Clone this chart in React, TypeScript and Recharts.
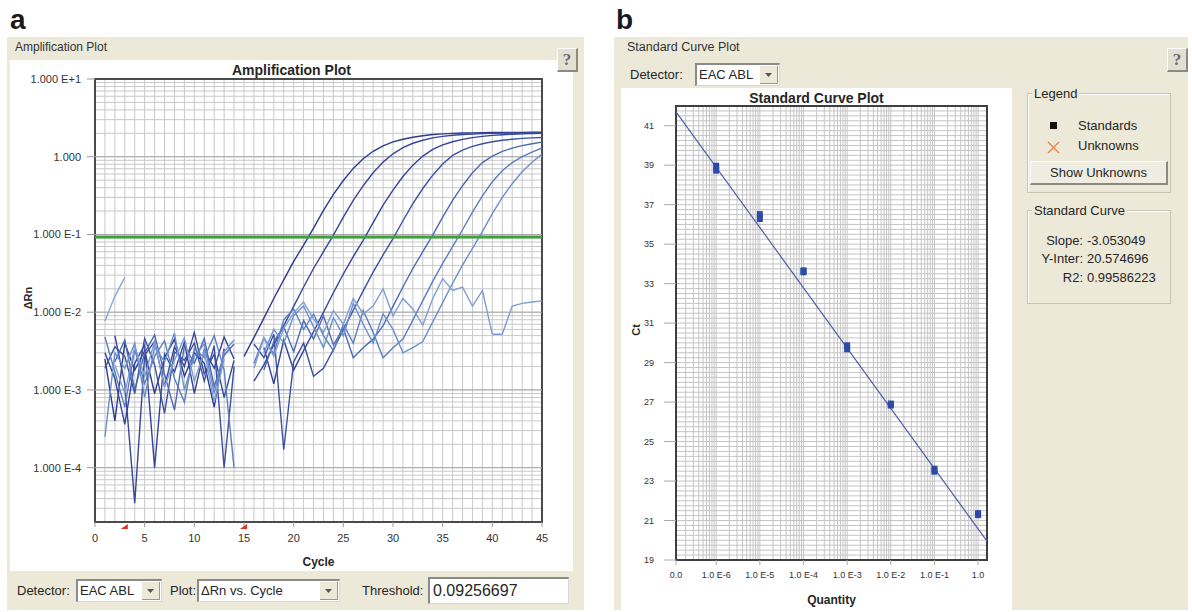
import React from "react";
import {
  LineChart,
  Line,
  ScatterChart,
  Scatter,
  XAxis,
  YAxis,
  CartesianGrid,
  ReferenceLine,
  ReferenceArea,
  ReferenceDot,
} from "recharts";

// ---------- (a) amplification plot ----------
const cycles = Array.from({ length: 45 }, (_, i) => i + 1);
const cycleTicks = [0, 5, 10, 15, 20, 25, 30, 35, 40, 45];
const drnTicks = [1e-4, 1e-3, 1e-2, 1e-1, 1, 10];
const drnMin = 2e-5;
const drnMax = 10;
const threshold = 0.09256697;
const baselineStart = 3;
const baselineEnd = 15;

// delta Rn per cycle, one array per well (null = not plotted on the log axis)
const wellA = [0.0025, 0.0004, 0.004, 0.0018, 0.0032, 0.0009, 0.0026, 0.0045, 0.0015, 0.003, 0.0022, 0.0006, 0.0034, null, 0.0027, 0.0047, 0.0084, 0.015, 0.026, 0.045, 0.073, 0.121, 0.204, 0.327, 0.495, 0.708, 0.944, 1.175, 1.38, 1.55, 1.68, 1.78, 1.86, 1.93, 1.97, 2.0, 2.02, 2.03, 2.04, 2.05, 2.05, 2.06, 2.06, 2.07, 2.07];
const wellB = [null, 0.005, 0.0012, 0.000035, 0.0028, 0.0042, 0.0011, 0.0036, 0.002, 0.0055, 0.0016, 0.0029, 0.0008, 0.0024, null, 0.0013, 0.0021, 0.0038, 0.0067, 0.0119, 0.0211, 0.0365, 0.06, 0.098, 0.167, 0.275, 0.424, 0.622, 0.853, 1.09, 1.31, 1.49, 1.63, 1.75, 1.83, 1.89, 1.93, 1.96, 1.98, 2.0, 2.01, 2.02, 2.02, 2.03, 2.03];
const wellC = [0.003, 0.0014, 0.00036, 0.0022, 0.0038, 0.0001, 0.0029, 0.0017, 0.0041, 0.0009, 0.0033, 0.0019, 0.0048, 0.0025, null, null, 0.0035, 0.0012, 0.0044, 0.0018, 0.0032, 0.0056, 0.01, 0.0178, 0.031, 0.052, 0.084, 0.142, 0.238, 0.373, 0.557, 0.78, 1.02, 1.24, 1.42, 1.56, 1.67, 1.76, 1.83, 1.88, 1.92, 1.95, 1.97, 1.99, 2.0];
const wellD = [0.0019, 0.0036, 0.0027, 0.0009, 0.0046, 0.0021, 0.0005, 0.0031, 0.0024, 0.004, 0.0013, 0.0037, 0.0001, 0.002, null, 0.0039, 0.0026, 0.0052, 0.00017, 0.0023, 0.004, 0.0015, 0.0019, 0.0033, 0.006, 0.0106, 0.0188, 0.0328, 0.0547, 0.0883, 0.15, 0.25, 0.39, 0.579, 0.805, 1.04, 1.22, 1.36, 1.47, 1.56, 1.63, 1.68, 1.72, 1.75, 1.77];
const wellE = [null, 0.0023, 0.0044, 0.001, 0.003, 0.0051, 0.0016, 0.00055, 0.0037, 0.0022, 0.0046, 0.0011, 0.0028, 0.0039, null, null, 0.0018, 0.0042, 0.0065, 0.0031, 0.0078, 0.0045, 0.009, 0.0038, 0.0062, 0.0026, 0.0035, 0.0045, 0.0067, 0.0119, 0.0211, 0.0365, 0.06, 0.098, 0.167, 0.275, 0.424, 0.622, 0.84, 1.02, 1.17, 1.29, 1.39, 1.47, 1.54];
const wellF = [0.0048, 0.0017, 0.0006, 0.0033, 0.0012, 0.0027, 0.0043, 0.0014, 0.0007, 0.0034, 0.0026, 0.005, 0.0018, 0.0001, null, 0.0022, 0.0047, 0.0029, 0.008, 0.011, 0.006, 0.0095, 0.005, 0.0032, 0.007, 0.004, 0.0105, 0.0055, 0.0026, 0.0035, 0.0045, 0.0079, 0.0141, 0.0249, 0.0425, 0.0696, 0.115, 0.194, 0.313, 0.476, 0.66, 0.84, 1.0, 1.15, 1.3];
const wellG = [0.00025, 0.003, 0.0019, 0.004, 0.0008, 0.0036, 0.0023, 0.0054, 0.001, 0.0027, 0.0039, 0.0009, 0.0031, 0.0044, null, null, 0.003, 0.006, 0.004, 0.009, 0.012, 0.0065, 0.0035, 0.0085, 0.005, 0.013, 0.007, 0.004, 0.0095, 0.006, 0.003, 0.0035, 0.0042, 0.0075, 0.0133, 0.0236, 0.0404, 0.0664, 0.109, 0.185, 0.3, 0.45, 0.64, 0.85, 1.08];
const ntcA = [0.0077, 0.016, 0.028];
const ntcB = [null, 0.0021, 0.0009, 0.0036, 0.0015, 0.0042, 0.0011, 0.0024, 0.0047, 0.0013, 0.0031, 0.0007, 0.0025, null, null, 0.0019, 0.0046, 0.0027, 0.0062, 0.0098, 0.0135, 0.0082, 0.0055, 0.0105, 0.007, 0.015, 0.0095, 0.012, 0.02, 0.009, 0.015, 0.011, 0.0068, 0.015, 0.027, 0.019, 0.021, 0.012, 0.019, 0.0052, 0.0052, 0.012, 0.013, 0.0135, 0.014];

const wells = [
  { key: "wellA", values: wellA, color: "#2E3A8E" },
  { key: "wellB", values: wellB, color: "#394697" },
  { key: "wellC", values: wellC, color: "#34449B" },
  { key: "wellD", values: wellD, color: "#3B51A4" },
  { key: "wellE", values: wellE, color: "#4A69B6" },
  { key: "wellF", values: wellF, color: "#5A7EC4" },
  { key: "wellG", values: wellG, color: "#6A8FCF" },
  { key: "ntcA", values: ntcA, color: "#86A8D8" },
  { key: "ntcB", values: ntcB, color: "#7E9ED3" },
];

const ampRows = cycles.map((cycle, i) => {
  const row: Record<string, number | null> = { cycle };
  wells.forEach((w) => (row[w.key] = w.values[i] ?? null));
  return row;
});

const drnGrid: number[] = [];
for (let e = -5; e <= 0; e++) {
  for (let k = 1; k <= 9; k++) {
    const v = k * Math.pow(10, e);
    if (v >= drnMin && v <= drnMax) drnGrid.push(v);
  }
}
drnGrid.push(drnMax);
const cycleGrid = cycles.slice(0, 44);

const fmtDrn = (v: number) => {
  const e = Math.round(Math.log10(v));
  if (e === 0) return "1.000";
  return `1.000 E${e > 0 ? "+" : ""}${e}`;
};

// ---------- (b) standard curve ----------
const qtyMin = 1.2e-7;
const qtyMax = 1.6;
const qtyTicks = [qtyMin, 1e-6, 1e-5, 1e-4, 1e-3, 1e-2, 1e-1, 1];
const ctTicks = [19, 21, 23, 25, 27, 29, 31, 33, 35, 37, 39, 41];
const standardQty = [1e-6, 1e-6, 1e-5, 1e-5, 1e-4, 1e-4, 1e-3, 1e-3, 1e-2, 1e-2, 1e-1, 1e-1, 1, 1];
const standardCt = [38.95, 38.75, 36.5, 36.3, 33.65, 33.6, 29.85, 29.7, 26.9, 26.85, 23.6, 23.5, 21.35, 21.3];
const fitSlope = -3.053049;
const fitIntercept = 20.574696;
const fitR2 = 0.99586223;

const standards = standardQty.map((q, i) => ({ q, ct: standardCt[i] }));
const fitAt = (q: number) => fitSlope * Math.log10(q) + fitIntercept;

const ctGrid = Array.from({ length: 93 }, (_, i) => 19 + i * 0.25);
const qtyGrid: number[] = [];
for (let e = -7; e <= 0; e++) {
  for (let k = 1; k <= 9; k++) {
    const v = k * Math.pow(10, e);
    if (v >= qtyMin && v <= qtyMax) qtyGrid.push(v);
  }
}

const fmtQty = (v: number) => {
  if (v === qtyMin) return "0.0";
  const e = Math.round(Math.log10(v));
  return e === 0 ? "1.0" : `1.0 E${e}`;
};

// ---------- ui bits ----------
const beige = "#ECE9D9";
const font = '"Liberation Sans", Arial, sans-serif';

function Txt({ left, top, size = 13, bold = false, children, style }: any) {
  return (
    <div
      style={{
        position: "absolute",
        left,
        top,
        fontSize: size,
        lineHeight: `${size + 2}px`,
        fontWeight: bold ? 700 : 400,
        whiteSpace: "nowrap",
        ...style,
      }}
    >
      {children}
    </div>
  );
}

function HelpButton({ left, top }: { left: number; top: number }) {
  return (
    <div
      style={{
        position: "absolute",
        left,
        top,
        width: 21,
        height: 24,
        boxSizing: "border-box",
        background: "#E2DFD3",
        borderTop: "1px solid #fff",
        borderLeft: "1px solid #fff",
        borderRight: "2px solid #8C897E",
        borderBottom: "2px solid #8C897E",
        fontFamily: '"Liberation Serif", serif',
        fontWeight: 700,
        fontSize: 17,
        color: "#6a6a6a",
        textAlign: "center",
        lineHeight: "21px",
      }}
    >
      ?
    </div>
  );
}

function ComboBox({ left, top, width, height, text }: any) {
  return (
    <div
      style={{
        position: "absolute",
        left,
        top,
        width,
        height,
        boxSizing: "border-box",
        background: "#fff",
        borderTop: "2px solid #8a8a8a",
        borderLeft: "2px solid #8a8a8a",
        borderRight: "1px solid #d8d8d8",
        borderBottom: "1px solid #d8d8d8",
      }}
    >
      <div style={{ position: "absolute", left: 2, top: 0, fontSize: 13, lineHeight: `${height - 3}px` }}>{text}</div>
      <div
        style={{
          position: "absolute",
          right: 1,
          top: 1,
          bottom: 1,
          width: 17,
          background: beige,
          borderRight: "1px solid #9a978c",
          borderBottom: "1px solid #9a978c",
          display: "flex",
          alignItems: "center",
          justifyContent: "center",
        }}
      >
        <svg width={7} height={4}>
          <polygon points="0,0 7,0 3.5,4" fill="#555" />
        </svg>
      </div>
    </div>
  );
}

function StdMark(props: any) {
  const { cx, cy } = props;
  return <rect x={cx - 3} y={cy - 3.5} width={6} height={7} fill="#2B4BA6" />;
}

function BaselineMark(props: any) {
  const { cx, cy } = props;
  return <polygon points={`${cx - 4},${cy + 7} ${cx + 3},${cy + 2} ${cx + 3},${cy + 7}`} fill="#E0321E" />;
}

export default function App() {
  return (
    <div
      style={{
        position: "absolute",
        left: 0,
        top: 0,
        width: 1192,
        height: 612,
        background: "#fff",
        overflow: "hidden",
        fontFamily: font,
        color: "#262626",
      }}
    >
      {/* panel a */}
      <Txt left={10} top={6} size={28} bold style={{ lineHeight: "28px", color: "#1a1a1a" }}>a</Txt>
      <div style={{ position: "absolute", left: 7, top: 37, width: 577, height: 573, background: beige }} />
      <Txt left={15} top={40} size={12} style={{ color: "#333" }}>Amplification Plot</Txt>
      <div style={{ position: "absolute", left: 10, top: 60, width: 563, height: 511, background: "#fff" }} />
      <HelpButton left={557} top={48} />
      <Txt left={10} top={62} size={14} bold style={{ width: 563, textAlign: "center" }}>Amplification Plot</Txt>
      <Txt left={95} top={555} size={12} bold style={{ width: 447, textAlign: "center" }}>Cycle</Txt>
      <div
        style={{
          position: "absolute",
          left: 28,
          top: 298,
          transform: "translate(-50%, -50%) rotate(-90deg)",
          fontSize: 11,
          fontWeight: 700,
          whiteSpace: "nowrap",
        }}
      >
        ΔRn
      </div>
      <div style={{ position: "absolute", left: 10, top: 60 }}>
        <LineChart width={568} height={510} data={ampRows} margin={{ top: 19, right: 36, bottom: 0, left: 10 }}>
          <CartesianGrid
            stroke="#c8c8c8"
            horizontalValues={drnGrid}
            verticalValues={cycleGrid}
            syncWithTicks={false}
          />
          {drnTicks.slice(0, 5).map((v) => (
            <ReferenceLine key={v} y={v} stroke="#a9a9a9" />
          ))}
          <XAxis
            type="number"
            dataKey="cycle"
            domain={[0, 45]}
            ticks={cycleTicks}
            interval={0}
            allowDataOverflow
            height={48}
            axisLine={false}
            tickSize={5}
            tickMargin={7}
            tickLine={{ stroke: "#999" }}
            tick={{ fontSize: 11, fill: "#333" }}
          />
          <YAxis
            scale="log"
            domain={[drnMin, drnMax]}
            ticks={drnTicks}
            interval={0}
            allowDataOverflow
            width={75}
            axisLine={false}
            tickSize={8}
            tickMargin={6}
            tickLine={{ stroke: "#999" }}
            tickFormatter={fmtDrn}
            tick={{ fontSize: 11, fill: "#333" }}
          />
          {wells.map((w) => (
            <Line
              key={w.key}
              dataKey={w.key}
              type="linear"
              stroke={w.color}
              strokeWidth={1.4}
              dot={false}
              connectNulls={false}
              isAnimationActive={false}
            />
          ))}
          <ReferenceLine y={threshold} stroke="#3FA23B" strokeWidth={3} />
          <ReferenceArea
            x1={0}
            x2={45}
            y1={drnMin}
            y2={drnMax}
            fill="none"
            stroke="#4a4a4a"
            strokeWidth={2}
            ifOverflow="visible"
          />
          <ReferenceDot x={baselineStart} y={drnMin} r={0} ifOverflow="visible" shape={BaselineMark} />
          <ReferenceDot x={baselineEnd} y={drnMin} r={0} ifOverflow="visible" shape={BaselineMark} />
        </LineChart>
      </div>
      <Txt left={17} top={583} size={13}>Detector:</Txt>
      <ComboBox left={76} top={579} width={86} height={23} text="EAC ABL" />
      <Txt left={170} top={583} size={13}>Plot:</Txt>
      <ComboBox left={197} top={579} width={143} height={23} text="ΔRn vs. Cycle" />
      <Txt left={362} top={583} size={13}>Threshold:</Txt>
      <div
        style={{
          position: "absolute",
          left: 428,
          top: 577,
          width: 141,
          height: 27,
          boxSizing: "border-box",
          background: "#fff",
          borderTop: "2px solid #8a8a8a",
          borderLeft: "2px solid #8a8a8a",
          borderRight: "1px solid #d8d8d8",
          borderBottom: "1px solid #d8d8d8",
          fontSize: 16,
          lineHeight: "23px",
          paddingLeft: 3,
        }}
      >
        {String(threshold)}
      </div>

      {/* panel b */}
      <Txt left={616} top={6} size={28} bold style={{ lineHeight: "28px", color: "#1a1a1a" }}>b</Txt>
      <div style={{ position: "absolute", left: 614, top: 37, width: 574, height: 573, background: beige }} />
      <Txt left={627} top={40} size={12.5} style={{ color: "#333" }}>Standard Curve Plot</Txt>
      <HelpButton left={1167} top={48} />
      <Txt left={630} top={67} size={13}>Detector:</Txt>
      <ComboBox left={695} top={63} width={85} height={23} text="EAC ABL" />
      <div style={{ position: "absolute", left: 621, top: 88, width: 391, height: 522, background: "#fff" }} />
      <Txt left={621} top={90} size={14} bold style={{ width: 391, textAlign: "center" }}>Standard Curve Plot</Txt>
      <Txt left={676} top={593} size={12} bold style={{ width: 311, textAlign: "center" }}>Quantity</Txt>
      <div
        style={{
          position: "absolute",
          left: 636,
          top: 330,
          transform: "translate(-50%, -50%) rotate(-90deg)",
          fontSize: 11,
          fontWeight: 700,
          whiteSpace: "nowrap",
        }}
      >
        Ct
      </div>
      <div style={{ position: "absolute", left: 620, top: 88 }}>
        <ScatterChart width={392} height={522} margin={{ top: 18, right: 25, bottom: 0, left: 4 }}>
          <CartesianGrid
            stroke="#c4c4c4"
            horizontalValues={ctGrid}
            verticalValues={qtyGrid}
            syncWithTicks={false}
          />
          <XAxis
            type="number"
            dataKey="q"
            scale="log"
            domain={[qtyMin, qtyMax]}
            ticks={qtyTicks}
            interval={0}
            allowDataOverflow
            height={50}
            axisLine={false}
            tickSize={5}
            tickMargin={7}
            tickLine={{ stroke: "#aaa" }}
            tickFormatter={fmtQty}
            tick={{ fontSize: 9, fill: "#333" }}
          />
          <YAxis
            type="number"
            dataKey="ct"
            domain={[19, 42]}
            ticks={ctTicks}
            interval={0}
            allowDataOverflow
            width={52}
            axisLine={false}
            tickSize={12}
            tickMargin={10}
            tickLine={{ stroke: "#aaa" }}
            tick={{ fontSize: 9, fill: "#333" }}
          />
          <ReferenceLine
            segment={[
              { x: qtyMin, y: fitAt(qtyMin) },
              { x: qtyMax, y: fitAt(qtyMax) },
            ]}
            stroke="#4E5EA6"
            strokeWidth={1.2}
            ifOverflow="visible"
          />
          <Scatter data={standards} shape={StdMark} isAnimationActive={false} />
          <ReferenceArea
            x1={qtyMin}
            x2={qtyMax}
            y1={19}
            y2={42}
            fill="none"
            stroke="#3f3f3f"
            strokeWidth={2}
            ifOverflow="visible"
          />
        </ScatterChart>
      </div>

      {/* legend group */}
      <div style={{ position: "absolute", left: 1027, top: 93, width: 144, height: 100, boxSizing: "border-box", border: "1px solid #C9C5B5", boxShadow: "inset 1px 1px 0 #fff" }} />
      <Txt left={1032} top={86} size={13} style={{ background: beige, padding: "0 2px" }}>Legend</Txt>
      <div style={{ position: "absolute", left: 1050, top: 122, width: 7, height: 7, background: "#111" }} />
      <Txt left={1078} top={118} size={13}>Standards</Txt>
      <svg style={{ position: "absolute", left: 1047, top: 141 }} width={13} height={13}>
        <line x1={1} y1={1} x2={12} y2={12} stroke="#E8894E" strokeWidth={1.4} />
        <line x1={12} y1={1} x2={1} y2={12} stroke="#E8894E" strokeWidth={1.4} />
      </svg>
      <Txt left={1078} top={138} size={13}>Unknowns</Txt>
      <div
        style={{
          position: "absolute",
          left: 1030,
          top: 161,
          width: 138,
          height: 24,
          boxSizing: "border-box",
          background: "#EFEDE2",
          borderTop: "1px solid #fff",
          borderLeft: "1px solid #fff",
          borderRight: "2px solid #8C897E",
          borderBottom: "2px solid #8C897E",
          fontSize: 13,
          lineHeight: "21px",
          textAlign: "center",
        }}
      >
        Show Unknowns
      </div>

      {/* standard curve group */}
      <div style={{ position: "absolute", left: 1027, top: 210, width: 144, height: 94, boxSizing: "border-box", border: "1px solid #C9C5B5", boxShadow: "inset 1px 1px 0 #fff" }} />
      <Txt left={1032} top={203} size={13} style={{ background: beige, padding: "0 2px" }}>Standard Curve</Txt>
      {[
        ["Slope:", String(fitSlope), 240],
        ["Y-Inter:", String(fitIntercept), 258],
        ["R2:", String(fitR2), 277],
      ].map(([label, value, cy]) => (
        <React.Fragment key={label as string}>
          <Txt left={1000} top={(cy as number) - 7.5} size={13} style={{ width: 83, textAlign: "right" }}>{label}</Txt>
          <Txt left={1087} top={(cy as number) - 7.5} size={13}>{value}</Txt>
        </React.Fragment>
      ))}
    </div>
  );
}
